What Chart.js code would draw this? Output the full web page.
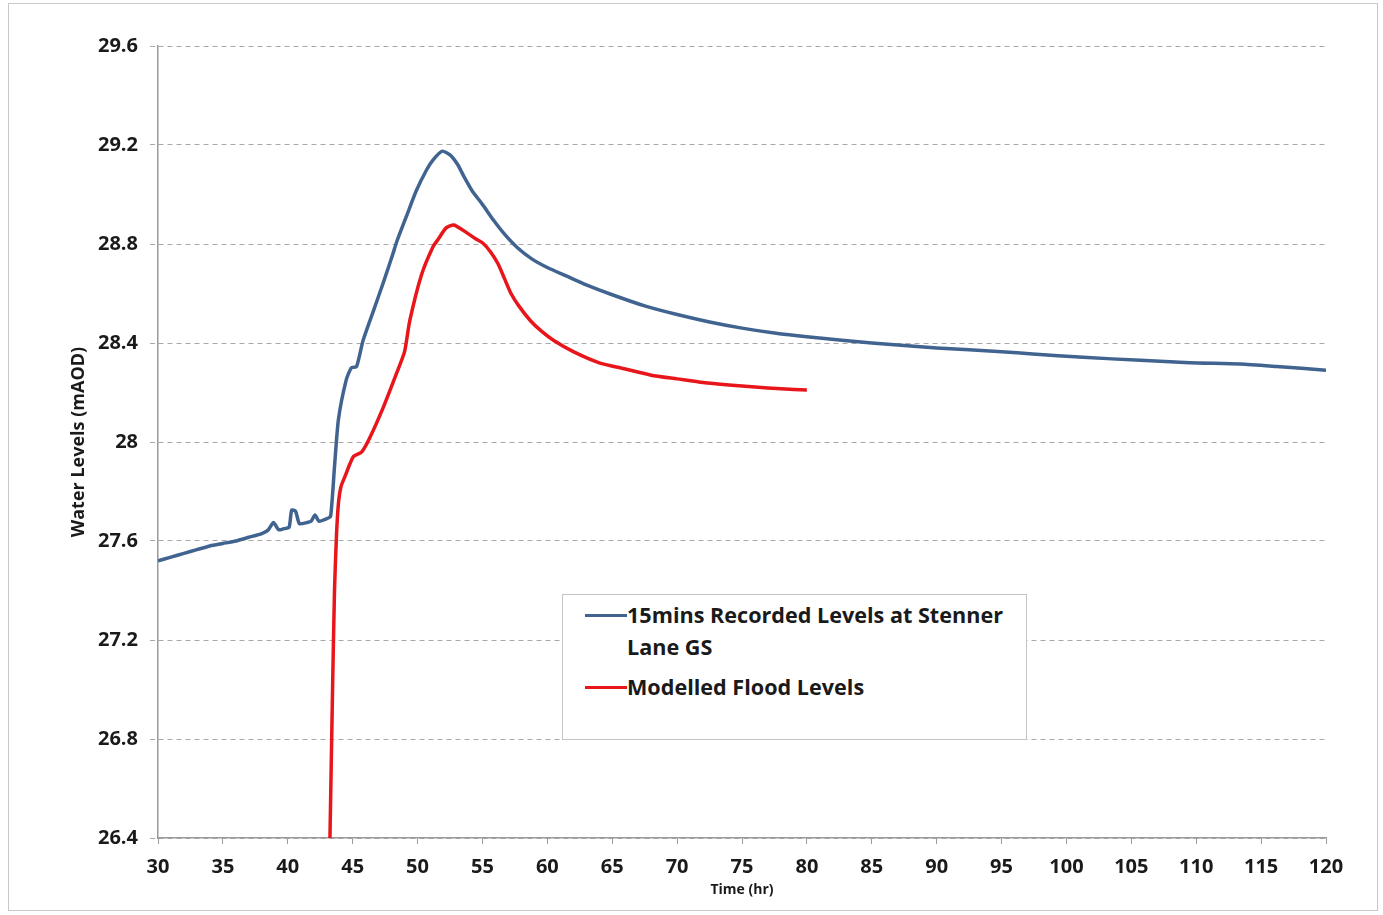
<!DOCTYPE html>
<html>
<head>
<meta charset="utf-8">
<script src="https://cdn.jsdelivr.net/npm/chart.js@4"></script>
<style>
  html, body { margin: 0; padding: 0; background: #fff; }
  #wrap { position: relative; width: 1383px; height: 915px; }
  #frame { position: absolute; left: 8px; top: 3px; width: 1370px; height: 908px; border: 1px solid #c8c8c8; box-sizing: border-box; }
  canvas { position: absolute; left: 0; top: 0; }
  #legend { position: absolute; left: 562px; top: 594px; width: 465px; height: 146px; border: 1px solid #c4c4c4; background: #fff; box-sizing: border-box;
            font: bold 21.6px "Open Sans", sans-serif; color: #1a1a1a; }
  .swatch { position: absolute; left: 22px; width: 42px; height: 3px; }
  .ltext { position: absolute; left: 64px; line-height: 32px; white-space: nowrap; }
</style>
</head>
<body>
<div id="wrap">
  <div id="frame"></div>
  <canvas id="chart" width="1383" height="915"></canvas>
  <div id="legend">
    <div class="swatch" style="top:19px;background:#40648f"></div>
    <div class="ltext" style="top:4px">15mins Recorded Levels at Stenner<br>Lane GS</div>
    <div class="swatch" style="top:91px;background:#e8151b"></div>
    <div class="ltext" style="top:76px">Modelled Flood Levels</div>
  </div>
</div>
<script>
// 实测水位 (15min)
const recHours = [30, 31, 32, 33, 34, 35, 36, 37, 38, 38.5, 38.9, 39.3, 39.7, 40.1, 40.3, 40.6, 40.9, 41.5, 41.8, 42.1, 42.4, 43.0, 43.3,
  43.6, 43.9, 44.5, 44.9, 45.3, 45.8, 46.6, 47.4, 48.1, 48.4, 49.2, 49.9, 50.7, 51.2, 51.9, 52.5, 53.1, 53.6, 54.2, 55.0,
  55.8, 56.7, 57.7, 58.8, 60.0, 61.5, 63, 65, 67.5, 70, 72.5, 75, 77.5, 80, 85, 90, 95, 97.4, 101.3, 105.7, 109.5, 113.4, 116.2, 120];
const recLevels = [27.52, 27.535, 27.55, 27.565, 27.58, 27.59, 27.60, 27.615, 27.63, 27.645, 27.675, 27.645, 27.65, 27.655, 27.725, 27.72, 27.67, 27.675, 27.68, 27.705, 27.68, 27.69, 27.70,
  27.90, 28.09, 28.25, 28.30, 28.305, 28.41, 28.53, 28.65, 28.76, 28.81, 28.92, 29.015, 29.10, 29.14, 29.175, 29.16, 29.12, 29.07, 29.015, 28.96,
  28.90, 28.84, 28.785, 28.74, 28.705, 28.67, 28.635, 28.595, 28.55, 28.515, 28.485, 28.46, 28.44, 28.425, 28.40, 28.38, 28.365, 28.356, 28.342, 28.33, 28.32, 28.315, 28.305, 28.29];

// 模型洪水位
const modHours = [43.25, 43.45, 43.6, 43.75, 43.9, 44.1, 44.4, 45.05, 45.7, 46.3, 47.4, 48.4, 49.0, 49.4, 50.3, 51.2, 51.6, 52.2,
  52.8, 53.8, 54.5, 55.0, 55.6, 56.2, 56.7, 57.2, 57.8, 58.7, 59.5, 60.5, 62, 64, 66, 68, 70, 72, 74, 76, 78, 80];
const modLevels = [26.4, 27.0, 27.4, 27.62, 27.75, 27.82, 27.86, 27.94, 27.96, 28.015, 28.145, 28.28, 28.365, 28.49, 28.675, 28.79, 28.82, 28.865,
  28.877, 28.845, 28.82, 28.805, 28.77, 28.72, 28.66, 28.6, 28.55, 28.49, 28.45, 28.41, 28.365, 28.32, 28.295, 28.27, 28.255, 28.24, 28.23, 28.222, 28.215, 28.21];

const seriesNames = ['15mins Recorded Levels at Stenner Lane GS', 'Modelled Flood Levels'];

const tickFont = { family: '"Open Sans", sans-serif', size: 20, weight: 'bold' };
const ink = '#1a1a1a';

new Chart(document.getElementById('chart'), {
  type: 'line',
  data: {
    datasets: [
      {
        label: seriesNames[0],
        data: recHours.map(function(h, i) { return { x: h, y: recLevels[i] }; }),
        borderColor: '#40648f',
        borderWidth: 3.5,
        pointRadius: 0,
        tension: 0.2,
        fill: false
      },
      {
        label: seriesNames[1],
        data: modHours.map(function(h, i) { return { x: h, y: modLevels[i] }; }),
        borderColor: '#e8151b',
        borderWidth: 3.5,
        pointRadius: 0,
        tension: 0.2,
        fill: false
      }
    ]
  },
  options: {
    responsive: false,
    animation: false,
    layout: { padding: { left: 60, right: 57, top: 46, bottom: 0 } },
    plugins: { legend: { display: false }, tooltip: { enabled: false } },
    scales: {
      x: {
        type: 'linear',
        min: 30, max: 120,
        afterFit: function(s) { s.height = 77; },
        ticks: { stepSize: 5, color: ink, font: tickFont, padding: 11, maxRotation: 0 },
        grid: { drawOnChartArea: false, drawTicks: true, tickLength: 6, color: '#9a9a9a' },
        border: { display: true, color: '#9a9a9a', width: 1.5 },
        title: { display: true, text: 'Time (hr)', color: ink,
                 font: { family: '"Open Sans", sans-serif', size: 14, weight: 'bold' }, padding: { top: 0, bottom: 17 } }
      },
      y: {
        min: 26.4, max: 29.6,
        afterFit: function(s) { s.width = 98; },
        ticks: { stepSize: 0.4, color: ink, font: tickFont, padding: 12,
                 callback: function(v) { return String(Number(v.toFixed(1))); } },
        grid: { color: '#a8a8a8', lineWidth: 1, tickLength: 8, tickBorderDash: [5, 4] },
        border: { display: true, color: '#9a9a9a', width: 1.5, dash: [5, 4] },
        title: { display: true, text: 'Water Levels (mAOD)', color: ink,
                 font: { family: '"Open Sans", sans-serif', size: 18, weight: 'bold' }, padding: { top: 8, bottom: 0 } }
      }
    }
  }
});
</script>
</body>
</html>
